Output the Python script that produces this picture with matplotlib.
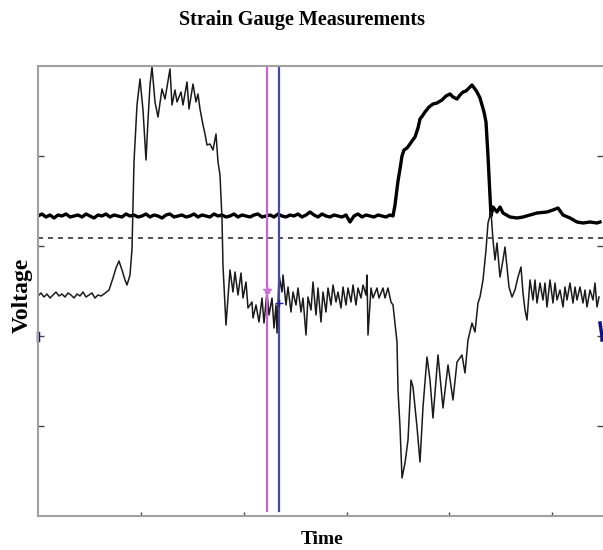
import matplotlib
matplotlib.use('Agg')
import matplotlib.pyplot as plt

# gauge 1 (thick trace): time in samples, voltage in counts
time_a = [0, 4, 8, 12, 16, 20, 24, 28, 32, 36, 40, 44, 48, 52, 56, 60, 64, 68, 72, 76,
          80, 84, 88, 92, 96, 100, 104, 108, 112, 116, 120, 124, 128, 132, 136, 140, 144,
          148, 152, 156, 160, 164, 168, 172, 176, 180, 184, 188, 192, 196, 200, 204, 208,
          212, 216, 220, 224, 228, 232, 236, 240, 244, 248, 252, 256, 260, 264, 268, 272,
          276, 280, 284, 288, 292, 296, 300, 304, 308, 312, 316, 320, 324, 328, 332, 336,
          340, 344, 348, 352, 355, 357, 360, 362, 364, 366, 369, 372, 374, 377, 380, 382,
          385, 387, 391, 395, 399, 404, 408, 412, 415, 419, 422, 425, 428, 431, 434, 437,
          439, 442, 444, 446, 448, 450, 452, 453, 455, 459, 462, 465, 472, 479, 485, 492,
          499, 509, 515, 520, 525, 532, 539, 545, 552, 559, 562]
volt_a = [300, 302, 299, 301, 298, 301, 300, 302, 299, 300, 301, 299, 302, 300, 298, 301,
          300, 302, 299, 301, 300, 299, 302, 300, 301, 299, 300, 302, 299, 301, 300, 298,
          301, 302, 299, 300, 301, 299, 300, 302, 299, 301, 300, 299, 302, 300, 301, 299,
          300, 302, 299, 301, 300, 299, 301, 302, 299, 300, 301, 299, 302, 300, 299, 301,
          300, 302, 299, 301, 304, 301, 299, 302, 300, 299, 301, 300, 299, 301, 294, 300,
          302, 299, 301, 300, 299, 301, 300, 299, 301, 300, 311, 335, 347, 360, 366, 368,
          372, 375, 379, 388, 397, 401, 404, 409, 412, 413, 416, 420, 422, 419, 417, 421,
          424, 425, 428, 431, 427, 424, 418, 411, 404, 394, 360, 320, 300, 309, 304, 309,
          303, 299, 298, 299, 301, 303, 304, 306, 308, 301, 298, 294, 293, 294, 293, 294]

# gauge 2 (thin trace)
time_b = [0, 3, 6, 9, 12, 15, 18, 21, 24, 27, 30, 33, 36, 39, 42, 45, 48, 51, 54, 57, 60,
          63, 66, 71, 75, 78, 81, 84, 87, 89, 92, 94, 96, 99, 102, 105, 108, 110, 112, 114,
          117, 120, 124, 127, 132, 134, 137, 139, 143, 145, 149, 151, 155, 158, 160, 162,
          165, 167, 169, 172, 175, 178, 180, 182, 184, 185, 188, 192, 195, 197, 200, 203,
          205, 208, 210, 214, 215, 218, 221, 224, 226, 229, 231, 234, 236, 238, 239, 241,
          244, 245, 248, 250, 253, 255, 258, 260, 263, 265, 268, 270, 273, 275, 278, 280,
          283, 285, 288, 290, 293, 295, 298, 300, 303, 305, 308, 310, 313, 315, 318, 320,
          323, 325, 328, 329, 330, 333, 335, 339, 341, 345, 347, 350, 353, 355, 359, 360,
          362, 364, 367, 370, 373, 375, 379, 382, 385, 389, 392, 395, 400, 405, 410, 415,
          419, 424, 427, 430, 434, 437, 440, 442, 445, 448, 450, 453, 455, 457, 459, 462,
          465, 467, 469, 471, 474, 477, 480, 483, 485, 487, 489, 492, 495, 497, 499, 502,
          505, 507, 509, 512, 515, 517, 519, 522, 525, 527, 529, 532, 535, 537, 539, 542,
          545, 547, 549, 552, 555, 557, 559, 561]
volt_b = [220, 223, 219, 222, 218, 221, 224, 220, 222, 219, 223, 221, 218, 222, 220, 224,
          219, 221, 223, 218, 221, 220, 222, 226, 238, 248, 255, 246, 236, 231, 241, 267,
          354, 411, 437, 406, 356, 396, 431, 449, 414, 399, 427, 417, 447, 411, 426, 414,
          424, 411, 434, 407, 432, 414, 422, 407, 391, 382, 371, 372, 366, 382, 354, 341,
          297, 250, 191, 246, 224, 244, 221, 243, 218, 234, 208, 214, 198, 211, 194, 218,
          193, 224, 201, 218, 188, 211, 183, 241, 224, 241, 211, 229, 204, 224, 211, 228,
          204, 218, 181, 219, 206, 234, 201, 228, 194, 224, 204, 228, 211, 231, 214, 224,
          208, 229, 211, 228, 214, 231, 211, 228, 218, 231, 221, 241, 181, 228, 218, 228,
          218, 228, 218, 228, 214, 211, 174, 126, 89, 38, 53, 76, 136, 129, 89, 54, 109,
          159, 136, 98, 161, 108, 151, 116, 154, 161, 143, 176, 193, 184, 213, 219, 236,
          266, 293, 304, 276, 256, 273, 239, 256, 269, 249, 229, 219, 226, 239, 249, 223,
          206, 196, 236, 216, 236, 213, 233, 216, 233, 209, 236, 213, 233, 216, 226, 209,
          229, 216, 233, 213, 229, 216, 229, 213, 226, 209, 226, 216, 233, 209, 219]

threshold = 278
cursor_1 = 229
cursor_2 = 241

plt.figure(figsize=(6.03, 5.5), dpi=100)
ax = plt.axes([38 / 603, 34 / 550, 565 / 603, 450 / 550])

ax.plot(time_a, volt_a, color='black', lw=2.4)
ax.plot(time_b, volt_b, color='#1a1a1a', lw=1.1)
ax.axhline(threshold, color='#333333', lw=1.2, ls=(0, (3, 3)))
ax.axvline(cursor_1, ymin=0.012, color='#d060d8', lw=1.6)
ax.axvline(cursor_2, ymin=0.012, color='#4848a0', lw=1.6)
ax.plot(cursor_1, 226, marker='*', color='#d070d8', ms=6)
ax.plot(cursor_2, 213, marker='+', color='#2020a0', ms=6)

# little blue markers on the frame edges
ax.plot([0, 0], [176, 183], color='#101090', lw=2.5, clip_on=False)
ax.plot([562, 564, 564], [193, 180, 176], color='#101090', lw=2.5, clip_on=False)

ax.set_xlim(0, 565)
ax.set_ylim(0, 450)
ax.set_xticks([103, 206, 309, 411, 514])
ax.set_yticks([90, 180, 270, 360])
ax.set_xticklabels([])
ax.set_yticklabels([])
ax.tick_params(direction='in', length=3, width=1, colors='#444444', right=True)
ax.tick_params(axis='y', which='both', length=4)
for s in ['left', 'bottom', 'top']:
    ax.spines[s].set_color('#a0a0a0')
    ax.spines[s].set_linewidth(1.5)
ax.spines['right'].set_visible(False)

serif = 'Liberation Serif'
plt.figtext(302 / 603, 1 - 20 / 550, 'Strain Gauge Measurements', ha='center', va='center',
            fontsize=14.5, fontweight='bold', family=serif)
plt.figtext(22 / 603, 1 - 295 / 550, 'Voltage', rotation=90, ha='center', va='center',
            fontsize=17, fontweight='bold', family=serif)
plt.figtext(322 / 603, 1 - 540 / 550, 'Time', ha='center', va='center',
            fontsize=14, fontweight='bold', family=serif)

plt.savefig('out.png', dpi=100)
